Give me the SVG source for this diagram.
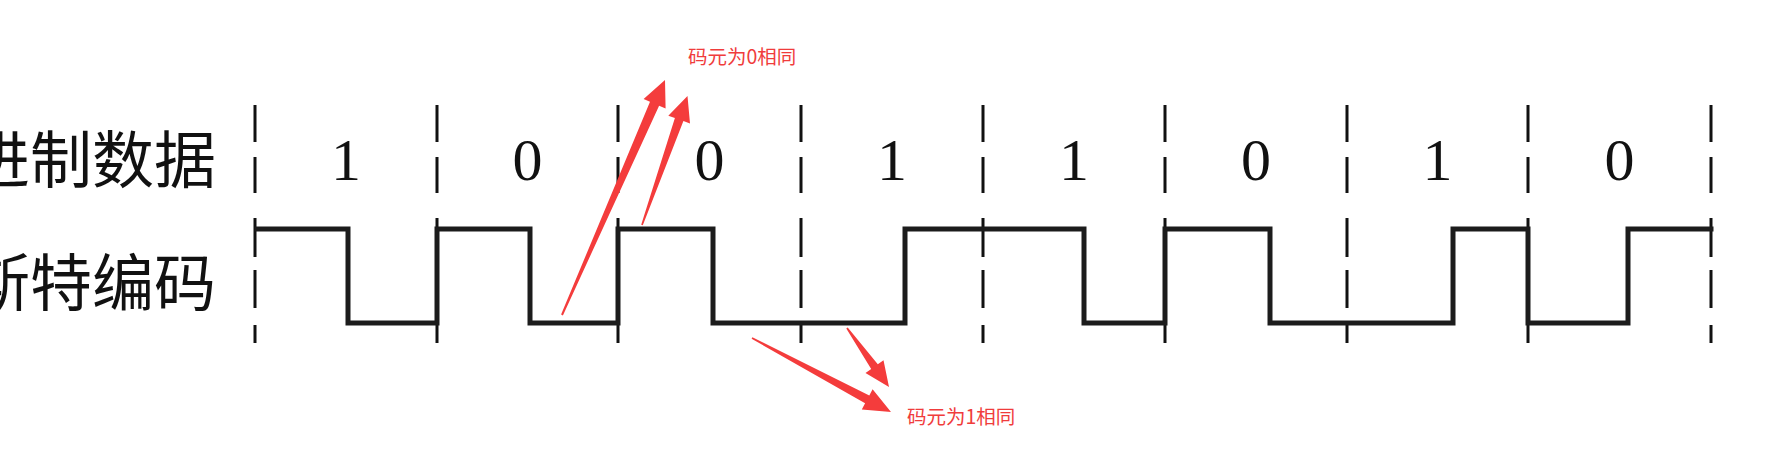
<svg xmlns="http://www.w3.org/2000/svg" xmlns:xlink="http://www.w3.org/1999/xlink" width="1773" height="460" viewBox="0 0 1773 460">
  <style>
    .rowlabel { font-family: "Noto Sans CJK SC", "Noto Sans", sans-serif; font-size: 62px; fill: #111; text-anchor: end; }
    .bit { font-family: "Liberation Serif", "DejaVu Serif", serif; font-size: 60px; fill: #111; text-anchor: middle; }
    .note { font-family: "Noto Sans CJK SC", "Noto Sans", sans-serif; font-size: 19.5px; fill: #f03c3c; }
    .dash { fill: none; stroke: #111; stroke-width: 3; }
    .wave { fill: none; stroke: #1c1c1c; stroke-width: 5; stroke-linejoin: miter; stroke-linecap: square; }
    .arrow { fill: #f43c3c; stroke: none; }
  </style>
  <defs>
    <path id="dashline" class="dash" d="M0,105 V142 M0,157 V193 M0,218 V257 M0,270 V308 M0,325 V343"/>
  </defs>
  <rect width="1773" height="460" fill="#ffffff"/>

  <g id="grid">
    <use xlink:href="#dashline" x="255"/>
    <use xlink:href="#dashline" x="437"/>
    <use xlink:href="#dashline" x="618"/>
    <use xlink:href="#dashline" x="801"/>
    <use xlink:href="#dashline" x="983"/>
    <use xlink:href="#dashline" x="1165"/>
    <use xlink:href="#dashline" x="1347"/>
    <use xlink:href="#dashline" x="1528"/>
    <use xlink:href="#dashline" x="1711"/>
  </g>

  <g id="label-binary">
    <text class="rowlabel" x="216" y="183">进制数据</text>
  </g>
  <g id="label-manchester">
    <text class="rowlabel" x="216" y="306">斯特编码</text>
  </g>

  <g id="bits">
    <text class="bit" x="346" y="180">1</text>
    <text class="bit" x="527.5" y="180">0</text>
    <text class="bit" x="709.5" y="180">0</text>
    <text class="bit" x="892" y="180">1</text>
    <text class="bit" x="1074" y="180">1</text>
    <text class="bit" x="1256" y="180">0</text>
    <text class="bit" x="1437.5" y="180">1</text>
    <text class="bit" x="1619.5" y="180">0</text>
  </g>

  <g id="waveform">
    <path class="wave" d="M257,229 H348 V323 H437 V229 H530 V323 H618 V229 H713 V323 H905 V229 H1084 V323 H1165 V229 H1270 V323 H1453 V229 H1528 V323 H1628 V229 H1711"/>
  </g>

  <g id="note-zero">
    <text class="note" x="688" y="63.5">码元为0相同</text>
  </g>
  <g id="note-one">
    <text class="note" x="907" y="423.5">码元为1相同</text>
  </g>

  <g id="connectors">
    <polygon class="arrow" points="562.9,315.4 659.1,105.8 665.6,108.6 665,80 643.6,99.0 650.0,101.8 561.1,314.6"/>
    <polygon class="arrow" points="642.8,225.3 683.4,121.1 690.0,123.4 687.5,96 668.3,115.8 674.9,118.1 641.2,224.7"/>
    <polygon class="arrow" points="752.4,337.2 869.3,395.4 872.6,389.2 891,412 861.8,409.5 865.1,403.3 751.6,338.8"/>
    <polygon class="arrow" points="847.7,327.5 877.8,364.3 883.5,360.2 889,387 865.5,373.0 871.2,368.9 846.3,328.5"/>
  </g>
</svg>
